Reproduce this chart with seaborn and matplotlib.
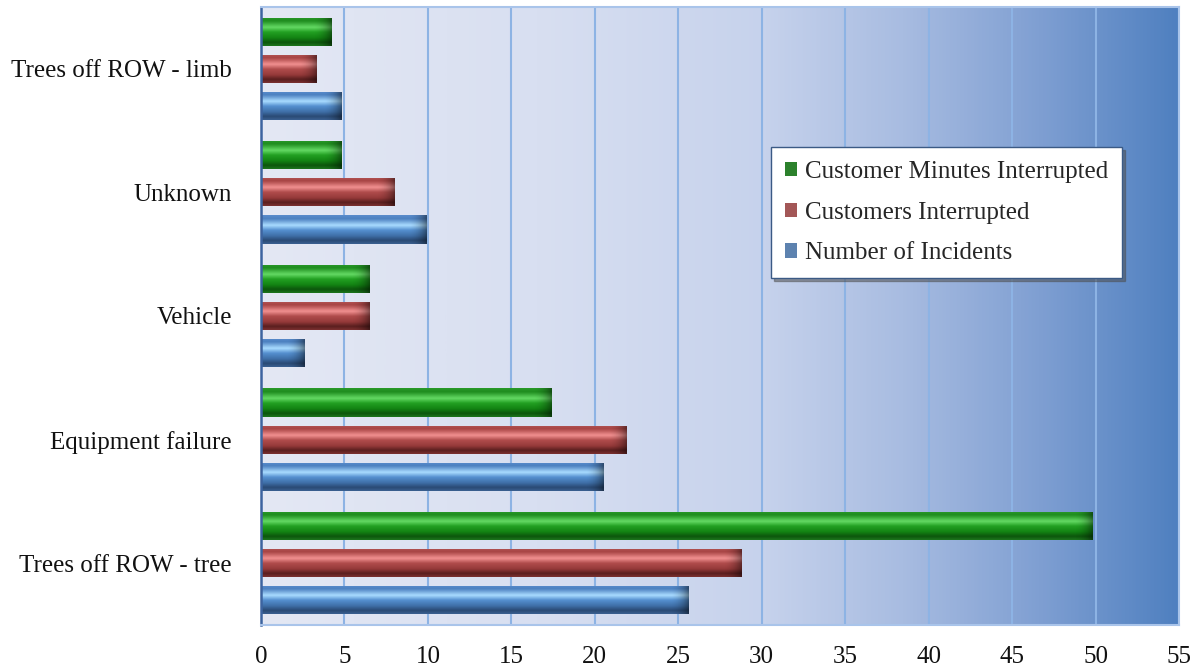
import numpy as np
import pandas as pd
import matplotlib
matplotlib.use("Agg")
import matplotlib.pyplot as plt
import seaborn as sns
from matplotlib.colors import LinearSegmentedColormap

# ---------------- data ----------------
categories = ["Trees off ROW - limb", "Unknown", "Vehicle",
              "Equipment failure", "Trees off ROW - tree"]
series = ["Customer Minutes Interrupted", "Customers Interrupted", "Number of Incidents"]
cust_minutes = [4.2, 4.8, 6.5, 17.4, 49.8]
customers = [3.3, 8.0, 6.5, 21.9, 28.8]
incidents = [4.8, 9.9, 2.6, 20.5, 25.6]
x_ticks = list(range(0, 56, 5))

base_colors = ["#1e8f1e", "#b04a4a", "#4f81bd"]
bevel_stops = [
    ["#2a9a2a", "#1e8c1e", "#63d963", "#22a022", "#138313", "#0c560c", "#1c741c"],
    ["#b25454", "#a84444", "#f19090", "#b04c4c", "#963a3a", "#5a1f1f", "#7a3030"],
    ["#5a8ccc", "#4c80c0", "#a9dbff", "#5590d0", "#3f6fa8", "#2a4a74", "#3a5f90"],
]
bevel_pos = [0.0, 0.12, 0.35, 0.52, 0.72, 0.88, 1.0]

df = pd.DataFrame({
    "category": categories * 3,
    "series": [series[0]] * 5 + [series[1]] * 5 + [series[2]] * 5,
    "value": cust_minutes + customers + incidents,
})

# ---------------- figure ----------------
sns.set_style("white")
plt.rcParams["font.family"] = ["Liberation Serif", "DejaVu Serif"]

fig = plt.figure(figsize=(12, 6.69), dpi=100)
ax = fig.add_axes([261 / 1200, 1 - 625 / 669, (1179 - 261) / 1200, (625 - 7) / 669])

# background gradient
bg_cmap = LinearSegmentedColormap.from_list(
    "bg", [(0.0, "#e4e8f4"), (0.3, "#d8dff1"), (0.55, "#c6d2ec"),
           (0.7, "#a8bce1"), (0.85, "#7f9fd2"), (1.0, "#4f80c0")])
ax.imshow(np.linspace(0, 1, 512).reshape(1, -1), cmap=bg_cmap, aspect="auto",
          extent=[0, 1, 0, 1], transform=ax.transAxes, zorder=0)

sns.barplot(data=df, y="category", x="value", hue="series",
            order=categories, hue_order=series, palette=base_colors,
            orient="h", width=0.9, gap=0.24, ax=ax,
            edgecolor="none", linewidth=0)

ylim = ax.get_ylim()

# bevel shading for each bar, clipped to bar patch
cmaps = [LinearSegmentedColormap.from_list(f"b{i}", list(zip(bevel_pos, s)))
         for i, s in enumerate(bevel_stops)]
for container, cm in zip(ax.containers, cmaps):
    for patch in container.patches:
        patch.set_zorder(2)
        x0, y0 = patch.get_x(), patch.get_y()
        w, h = patch.get_width(), patch.get_height()
        if w <= 0:
            continue
        grad = np.linspace(0, 1, 64).reshape(-1, 1)
        im = ax.imshow(grad, cmap=cm, aspect="auto",
                       extent=[x0, x0 + w, y0 + h, y0], zorder=2.5,
                       interpolation="bilinear")
        im.set_clip_path(patch)
        # darker right end cap
        cap_w = min(1.1, w * 0.5)
        rgba = np.zeros((1, 32, 4))
        rgba[..., 3] = np.linspace(0, 1, 32) ** 2 * 0.45
        im2 = ax.imshow(rgba, aspect="auto",
                        extent=[x0 + w - cap_w, x0 + w, y0 + h, y0], zorder=2.6,
                        interpolation="bilinear")
        im2.set_clip_path(patch)

ax.set_xlim(0, 55)
ax.set_ylim(*ylim)

ax.set_xticks(x_ticks)
ax.set_axisbelow(True)
ax.xaxis.grid(True, color="#8db3e4", linewidth=1.5)
ax.yaxis.grid(False)

ax.set_xlabel("")
ax.set_ylabel("")
ax.tick_params(axis="x", length=0, pad=15, labelsize=18, labelcolor="#111111")
ax.tick_params(axis="y", length=0, pad=21, labelsize=18, labelcolor="#111111")

for side in ["top", "right", "bottom"]:
    ax.spines[side].set_color("#a9c4ea")
    ax.spines[side].set_linewidth(1.5)
ax.spines["left"].set_color("#3d64a0")
ax.spines["left"].set_linewidth(1.8)
for s in ax.spines.values():
    s.set_zorder(3)

# legend
handles, labels = ax.get_legend_handles_labels()
if ax.legend_ is not None:
    ax.legend_.remove()
leg = ax.legend(handles, labels, loc="upper left",
                bbox_to_anchor=((771 - 261) / 918, (625 - 147) / 618),
                fontsize=18, frameon=True, fancybox=False, shadow=True,
                handlelength=0.5, handleheight=0.5, handletextpad=0.3,
                labelspacing=0.75, borderpad=0.55, borderaxespad=0)
leg.get_frame().set_edgecolor("#3b5a85")
leg.get_frame().set_linewidth(1.0)
leg.get_frame().set_facecolor("white")
leg.set_zorder(5)

fig.savefig("out.png", dpi=100)
